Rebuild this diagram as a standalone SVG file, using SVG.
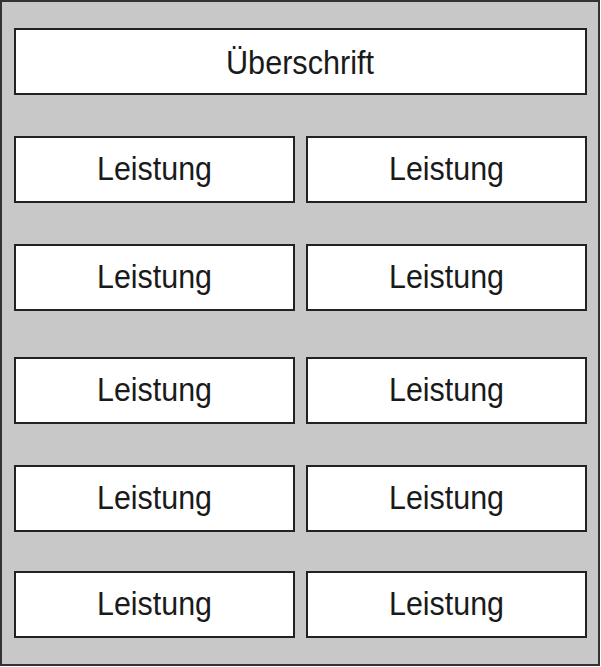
<svg xmlns="http://www.w3.org/2000/svg" width="601" height="667" viewBox="0 0 601 667">
<style>
.box{fill:#ffffff;stroke:#222222;stroke-width:2}
.t{font-family:"Liberation Sans",Arial,sans-serif;font-size:33px;fill:#1a1a1a;text-anchor:middle}
</style>
<rect x="1" y="1" width="598" height="664" fill="#c8c8c8" stroke="#333333" stroke-width="2"/>
<g id="header"><rect class="box" x="15" y="29" width="571" height="65"/><text class="t" x="300" y="74" textLength="148" lengthAdjust="spacingAndGlyphs">Überschrift</text></g>
<g id="n1l"><rect class="box" x="15" y="137" width="279" height="65"/><text class="t" x="154.5" y="180" textLength="115" lengthAdjust="spacingAndGlyphs">Leistung</text></g>
<g id="n1r"><rect class="box" x="307" y="137" width="279" height="65"/><text class="t" x="446.5" y="180" textLength="115" lengthAdjust="spacingAndGlyphs">Leistung</text></g>
<g id="n2l"><rect class="box" x="15" y="245" width="279" height="65"/><text class="t" x="154.5" y="288" textLength="115" lengthAdjust="spacingAndGlyphs">Leistung</text></g>
<g id="n2r"><rect class="box" x="307" y="245" width="279" height="65"/><text class="t" x="446.5" y="288" textLength="115" lengthAdjust="spacingAndGlyphs">Leistung</text></g>
<g id="n3l"><rect class="box" x="15" y="358" width="279" height="65"/><text class="t" x="154.5" y="401" textLength="115" lengthAdjust="spacingAndGlyphs">Leistung</text></g>
<g id="n3r"><rect class="box" x="307" y="358" width="279" height="65"/><text class="t" x="446.5" y="401" textLength="115" lengthAdjust="spacingAndGlyphs">Leistung</text></g>
<g id="n4l"><rect class="box" x="15" y="466" width="279" height="65"/><text class="t" x="154.5" y="509" textLength="115" lengthAdjust="spacingAndGlyphs">Leistung</text></g>
<g id="n4r"><rect class="box" x="307" y="466" width="279" height="65"/><text class="t" x="446.5" y="509" textLength="115" lengthAdjust="spacingAndGlyphs">Leistung</text></g>
<g id="n5l"><rect class="box" x="15" y="572" width="279" height="65"/><text class="t" x="154.5" y="615" textLength="115" lengthAdjust="spacingAndGlyphs">Leistung</text></g>
<g id="n5r"><rect class="box" x="307" y="572" width="279" height="65"/><text class="t" x="446.5" y="615" textLength="115" lengthAdjust="spacingAndGlyphs">Leistung</text></g>
<g id="connectors"/>
</svg>
